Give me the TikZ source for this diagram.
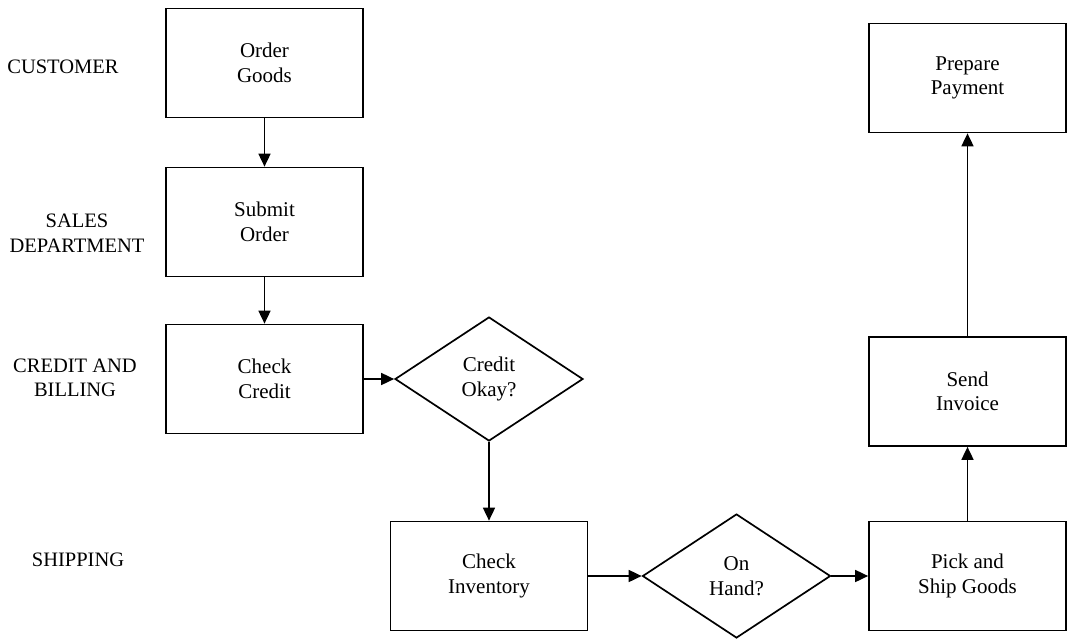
\documentclass[tikz,border=0pt]{standalone}
\usepackage{fontspec}
\setmainfont{Liberation Serif}
\usetikzlibrary{shapes.geometric,arrows.meta}
\begin{document}
\begin{tikzpicture}[x=1pt,y=-1pt,
  every node/.style={font=\fontsize{20.5}{24.5}\selectfont, align=center},
  proc/.style={draw, line width=1.7pt, rectangle, inner sep=0pt,
    minimum width=197pt, minimum height=109pt,
    font=\fontsize{21}{24.5}\selectfont},
  decide/.style={draw, line width=1.7pt, diamond, inner sep=0pt,
    minimum width=188pt, minimum height=124pt,
    font=\fontsize{21}{25}\selectfont},
  lane/.style={align=center},
  flow/.style={line width=1.7pt, -{Triangle[length=13pt,width=12pt]}}
]
\useasboundingbox (0,0) rectangle (1069,638);

% lane labels
\node[lane] (lcust)   at (63,67)  {CUSTOMER};
\node[lane] (lsales)  at (77,233) {SALES\\DEPARTMENT};
\node[lane] (lcredit) at (75,378) {CREDIT AND\\BILLING};
\node[lane] (lship)   at (78,560) {SHIPPING};

% process steps
\node[proc] (order)   at (264.5,63)  {Order\\Goods};
\node[proc] (submit)  at (264.5,222) {Submit\\Order};
\node[proc] (ccredit) at (264.5,379) {Check\\Credit};
\node[decide] (okay)  at (489,379)   {Credit\\Okay?};
\node[proc] (cinv)    at (489,576)   {Check\\Inventory};
\node[decide] (onhand) at (736.5,576) {On\\Hand?};
\node[proc] (pick)    at (967.5,576) {Pick and\\Ship Goods};
\node[proc] (invoice) at (967.5,391.5) {Send\\Invoice};
\node[proc] (pay)     at (967.5,78)  {Prepare\\Payment};

% connectors
\draw[flow] (order) -- (submit);
\draw[flow] (submit) -- (ccredit);
\draw[flow] (ccredit.east) -- (okay.west);
\draw[flow] (okay.south) -- (cinv.north);
\draw[flow] (cinv.east) -- (onhand.west);
\draw[flow] (onhand.east) -- (pick.west);
\draw[flow] (pick) -- (invoice);
\draw[flow] (invoice) -- (pay);
\end{tikzpicture}
\end{document}
